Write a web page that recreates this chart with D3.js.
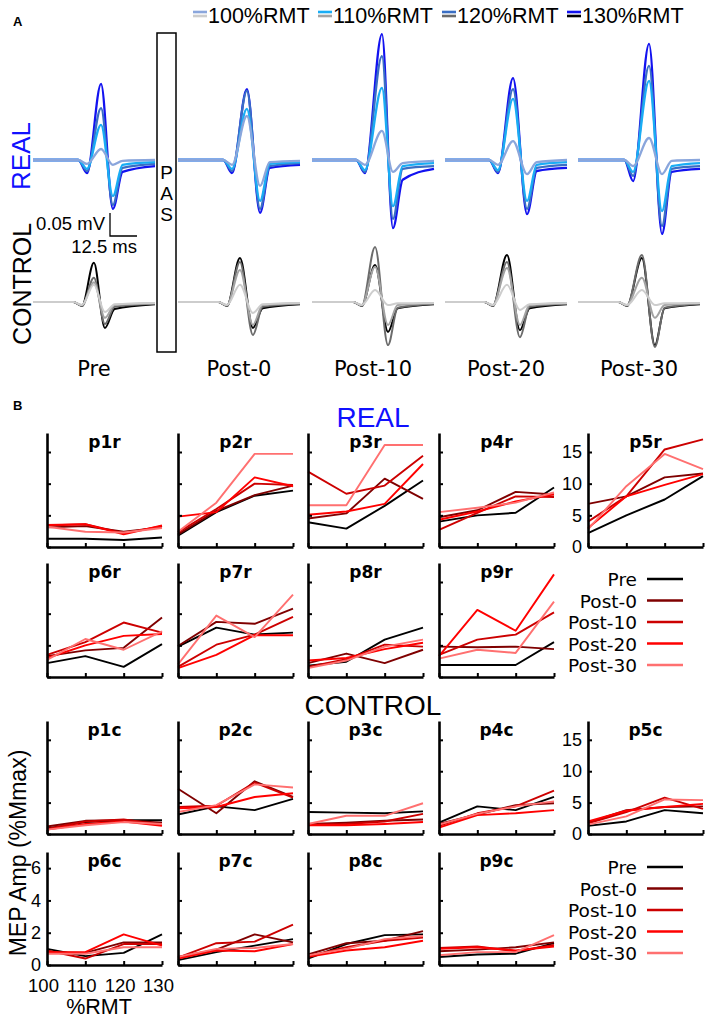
<!DOCTYPE html>
<html><head><meta charset="utf-8">
<script src="https://cdn.jsdelivr.net/npm/d3@7"></script>
<style>body{margin:0;background:#fff}</style>
</head><body><svg id="c" width="708" height="1021"></svg>
<script>
// ================= DATA =================
// Panel A: MEP waveforms (µV), per phase [100,110,120,130 %RMT]
const intensities = ["100%RMT", "110%RMT", "120%RMT", "130%RMT"];
const phases = ["Pre", "Post-0", "Post-10", "Post-20", "Post-30"];
// event times (ms from sweep start): [dip, peak, trough]
const realTimes = [[25.0, 31.5, 37.0], [25.0, 31.9, 38.0], [24.5, 32.4, 37.5], [24.5, 31.5, 38.0], [25.5, 32.9, 38.9]];
const ctrlTimes = [[22.7, 28.2, 33.3], [22.7, 28.7, 34.7], [23.1, 29.2, 35.2], [22.2, 28.7, 34.7], [22.7, 29.6, 35.6]];
const realDip = [[-9, -20, -25, -30], [-11, -20, -25, -30], [-11, -23, -27, -30], [-11, -23, -27, -30], [-14, -27, -36, -48]];
const realPeak = [[25, 80, 118, 173], [100, 116, 157, 161], [66, 164, 236, 286], [43, 139, 161, 186], [50, 180, 214, 264]];
const realTrough = [[-11, -82, -102, -111], [-59, -93, -111, -120], [-27, -105, -134, -155], [-32, -93, -111, -123], [-32, -116, -150, -168]];
const realTail = [[-2, -11, -18, -27], [-5, -9, -14, -18], [-7, -14, -20, -45], [-5, -11, -18, -25], [-2, -14, -20, -27]];
const realEnd = [[0, -5, -9, -14], [-2, -5, -7, -11], [-2, -7, -14, -20], [0, -5, -11, -18], [0, -7, -14, -20]];
const ctrlDip = [[-7, -7, -9, -9], [-7, -7, -9, -9], [-7, -7, -9, -9], [-7, -7, -9, -9], [-7, -7, -9, -9]];
const ctrlPeak = [[39, 45, 55, 89], [39, 73, 91, 100], [27, 80, 125, 84], [39, 77, 91, 107], [27, 55, 107, 100]];
const ctrlTrough = [[-23, -36, -50, -59], [-25, -52, -75, -59], [-7, -52, -98, -68], [-18, -52, -80, -64], [-7, -36, -102, -98]];
const ctrlTail = [[-5, -7, -11, -16], [-5, -7, -11, -14], [-3, -7, -13, -14], [-5, -7, -11, -14], [-3, -7, -13, -14]];
const ctrlEnd = [[-2, -3, -4, -5], [-2, -3, -4, -5], [-2, -3, -4, -5], [-2, -3, -4, -5], [-2, -3, -4, -5]];

// Panel B: MEP amplitude (%Mmax), rows = sessions, cols = %RMT
const rmt = [100, 110, 120, 130];
const sessions = ["Pre", "Post-0", "Post-10", "Post-20", "Post-30"];
const p1r = [[1.3, 1.3, 1.1, 1.5], [3.1, 3.3, 2.4, 3.1], [3.4, 3.6, 2.2, 3.3], [3.5, 3.6, 2.0, 3.4], [3.2, 2.4, 2.3, 3.0]];
const p2r = [[1.8, 5.5, 8.1, 8.9], [2.0, 5.7, 8.2, 9.7], [2.3, 6.0, 10.0, 9.8], [4.8, 5.5, 11.0, 9.6], [2.4, 7.0, 14.7, 14.7]];
const p3r = [[3.9, 2.9, 6.5, 10.5], [4.5, 5.3, 10.8, 7.6], [11.9, 8.4, 9.7, 14.4], [5.1, 5.6, 6.8, 13.1], [6.6, 6.6, 16.1, 16.1]];
const p4r = [[4.0, 5.0, 5.4, 9.4], [4.7, 5.8, 8.7, 8.3], [2.7, 5.4, 8.0, 7.9], [4.3, 5.6, 7.2, 8.3], [5.5, 6.2, 7.0, 8.6]];
const p5r = [[2.2, 5.0, 7.5, 11.2], [6.8, 8.0, 11.0, 11.6], [4.0, 8.0, 15.4, 17.0], [3.0, 8.0, 9.8, 11.5], [2.8, 9.6, 14.7, 12.3]];
const p6r = [[2.2, 3.3, 1.6, 5.2], [3.3, 4.2, 4.6, 9.4], [3.5, 5.5, 8.6, 7.0], [3.0, 5.0, 6.5, 6.8], [2.7, 6.0, 4.3, 7.2]];
const p7r = [[4.8, 7.8, 6.7, 7.0], [4.9, 8.7, 8.4, 10.8], [1.6, 5.1, 6.7, 9.5], [1.4, 3.5, 6.6, 6.6], [2.0, 9.7, 6.3, 13.0]];
const p8r = [[1.8, 2.4, 5.9, 7.8], [2.2, 3.7, 2.2, 4.3], [1.6, 2.8, 5.1, 4.8], [2.6, 3.0, 4.4, 5.4], [1.4, 2.6, 4.8, 5.9]];
const p9r = [[1.9, 1.9, 1.9, 5.5], [4.8, 4.7, 4.8, 4.4], [3.5, 5.9, 6.7, 10.2], [3.3, 10.6, 7.3, 16.2], [2.9, 4.3, 3.8, 11.9]];
const p1c = [[0.9, 1.9, 2.2, 2.2], [1.2, 2.1, 2.2, 1.8], [0.8, 2.0, 2.3, 1.5], [0.7, 1.6, 2.0, 1.3], [0.7, 1.4, 1.9, 1.6]];
const p2c = [[3.1, 4.4, 3.8, 5.6], [7.2, 3.3, 8.4, 5.9], [4.3, 4.5, 8.2, 5.8], [4.1, 4.3, 5.9, 6.5], [3.5, 4.6, 7.9, 7.4]];
const p3c = [[3.5, 3.4, 3.3, 3.6], [1.6, 1.8, 2.1, 2.3], [1.5, 1.6, 2.0, 3.2], [1.4, 1.4, 1.6, 1.9], [1.6, 2.9, 2.9, 4.9]];
const p4c = [[1.8, 4.4, 3.8, 5.9], [1.6, 3.1, 4.6, 4.9], [1.3, 3.3, 4.4, 6.9], [1.0, 3.0, 3.3, 3.8], [1.5, 3.2, 4.4, 5.2]];
const p5c = [[1.3, 2.0, 3.8, 3.3], [1.8, 3.8, 4.3, 4.4], [1.7, 3.5, 5.8, 4.0], [2.0, 3.7, 4.3, 4.8], [1.5, 2.8, 5.5, 5.4]];
const p6c = [[1.0, 0.55, 0.75, 1.9], [0.8, 0.75, 1.4, 1.4], [0.9, 0.4, 1.3, 1.3], [0.8, 0.8, 1.9, 1.2], [0.7, 0.7, 1.1, 1.1]];
const p7c = [[0.3, 0.8, 1.2, 1.6], [0.5, 0.95, 1.9, 1.4], [0.45, 1.35, 1.45, 2.5], [0.4, 0.9, 0.85, 1.3], [0.5, 1.0, 1.05, 1.3]];
const p8c = [[0.4, 1.3, 1.85, 1.9], [0.65, 1.35, 1.5, 2.1], [0.55, 1.1, 1.5, 1.7], [0.5, 0.9, 1.1, 1.5], [0.6, 1.0, 1.6, 1.8]];
const p9c = [[0.5, 0.65, 0.7, 1.35], [0.85, 0.95, 1.1, 1.4], [1.05, 1.15, 0.85, 1.25], [1.0, 1.1, 0.9, 1.15], [0.6, 0.8, 0.8, 1.85]];
const yTicksBig = [0, 5, 10, 15];
const yTicksSmall = [0, 2, 4, 6];

// ================= STYLE / LAYOUT =================
const SANS = "'Liberation Sans', Arial, sans-serif";
const DEJA = "'DejaVu Sans', sans-serif";
const realColors = ["#8aa6dc", "#19adf5", "#3a6ec4", "#1212f0"];
const ctrlColors = ["#cdcdcd", "#a3a3a3", "#6b6b6b", "#000000"];
const sessColors = ["#000000", "#7f0000", "#cc0000", "#ff0000", "#ff7070"];

const svg = d3.select("#c");
svg.append("rect").attr("width", 708).attr("height", 1021).attr("fill", "#fff");

function txt(x, y, s, size, opts = {}) {
  const t = svg.append("text").attr("x", x).attr("y", y).text(s)
    .attr("font-family", opts.family || SANS).attr("font-size", size)
    .attr("fill", opts.fill || "#000").attr("text-anchor", opts.anchor || "start");
  if (opts.weight) t.attr("font-weight", opts.weight);
  if (opts.rotate) t.attr("transform", `rotate(-90,${x},${y})`);
  return t;
}

// ---------- Panel A ----------
txt(13, 26, "A", 13, { weight: "bold" });
const legX = [193, 318, 442, 567];
intensities.forEach((lab, i) => {
  svg.append("line").attr("x1", legX[i]).attr("x2", legX[i] + 14).attr("y1", 12).attr("y2", 12)
    .attr("stroke", realColors[i]).attr("stroke-width", 2.6);
  svg.append("line").attr("x1", legX[i]).attr("x2", legX[i] + 14).attr("y1", 16).attr("y2", 16)
    .attr("stroke", ctrlColors[i]).attr("stroke-width", 2.6);
  txt(legX[i] + 15, 23, lab, 21.5);
});

txt(30, 156, "REAL", 26, { rotate: true, anchor: "middle", fill: "#1010ff" });
txt(31, 284, "CONTROL", 25, { rotate: true, anchor: "middle" });

// PAS box
svg.append("rect").attr("x", 157).attr("y", 33).attr("width", 19).attr("height", 319)
  .attr("fill", "none").attr("stroke", "#000").attr("stroke-width", 1.5);
["P", "A", "S"].forEach((c, i) => txt(166.5, 179 + i * 21, c, 19, { anchor: "middle" }));

// scale bar
svg.append("path").attr("d", "M110,213V236H137").attr("fill", "none").attr("stroke", "#000").attr("stroke-width", 1.3);
txt(105, 230, "0.05 mV", 18.5, { anchor: "end" });
txt(137, 253, "12.5 ms", 18.5, { anchor: "end" });

const colX = [33, 178, 312, 445, 578];
const tScale = d3.scaleLinear().domain([0, 56.5]).range([0, 122]);
const vReal = d3.scaleLinear().domain([0, 50]).range([160, 138]);
const vCtrl = d3.scaleLinear().domain([0, 50]).range([302, 280]);

function wavePts(tm, dip, peak, trough, tail, end) {
  return [[0, 0], [tm[0] - 4, 0], [tm[0], dip], [tm[1], peak], [tm[2], trough], [tm[2] + 4.5, tail], [56.5, end]];
}
phases.forEach((ph, p) => {
  const x0 = colX[p];
  const lineR = d3.line().x(d => x0 + tScale(d[0])).y(d => vReal(d[1])).curve(d3.curveMonotoneX);
  const lineC = d3.line().x(d => x0 + tScale(d[0])).y(d => vCtrl(d[1])).curve(d3.curveMonotoneX);
  for (let i = 3; i >= 0; i--) {
    svg.append("path")
      .attr("d", lineR(wavePts(realTimes[p], realDip[p][i], realPeak[p][i], realTrough[p][i], realTail[p][i], realEnd[p][i])))
      .attr("fill", "none").attr("stroke", realColors[i]).attr("stroke-width", 2.3).attr("stroke-linejoin", "round");
  }
  for (let i = 3; i >= 0; i--) {
    svg.append("path")
      .attr("d", lineC(wavePts(ctrlTimes[p], ctrlDip[p][i], ctrlPeak[p][i], ctrlTrough[p][i], ctrlTail[p][i], ctrlEnd[p][i])))
      .attr("fill", "none").attr("stroke", ctrlColors[i]).attr("stroke-width", 2).attr("stroke-linejoin", "round");
  }
  txt(x0 + 61, 376, ph, 21, { anchor: "middle", family: DEJA });
});

// ---------- Panel B ----------
txt(13, 410, "B", 13, { weight: "bold" });
txt(373, 427, "REAL", 28, { anchor: "middle", fill: "#1010ff" });
txt(373, 715, "CONTROL", 28, { anchor: "middle" });

const colB = [47, 178, 308, 439, 588];
const wB = 115;
const rowsB = [{ top: 433, bot: 547, max: 18 }, { top: 563, bot: 677, max: 18 }, { top: 721, bot: 834, max: 18 }, { top: 852, bot: 965, max: 7 }];

const panels = [
  { name: "p1r", d: p1r, r: 0, c: 0 }, { name: "p2r", d: p2r, r: 0, c: 1 }, { name: "p3r", d: p3r, r: 0, c: 2 },
  { name: "p4r", d: p4r, r: 0, c: 3 }, { name: "p5r", d: p5r, r: 0, c: 4, ylab: true },
  { name: "p6r", d: p6r, r: 1, c: 0 }, { name: "p7r", d: p7r, r: 1, c: 1 }, { name: "p8r", d: p8r, r: 1, c: 2 },
  { name: "p9r", d: p9r, r: 1, c: 3 },
  { name: "p1c", d: p1c, r: 2, c: 0 }, { name: "p2c", d: p2c, r: 2, c: 1 }, { name: "p3c", d: p3c, r: 2, c: 2 },
  { name: "p4c", d: p4c, r: 2, c: 3 }, { name: "p5c", d: p5c, r: 2, c: 4, ylab: true },
  { name: "p6c", d: p6c, r: 3, c: 0, ylab: true, xlab: true }, { name: "p7c", d: p7c, r: 3, c: 1 },
  { name: "p8c", d: p8c, r: 3, c: 2 }, { name: "p9c", d: p9c, r: 3, c: 3 }
];

panels.forEach(pn => {
  const row = rowsB[pn.r];
  const x0 = colB[pn.c];
  const x = d3.scaleLinear().domain([100, 130]).range([x0, x0 + wB]);
  const y = d3.scaleLinear().domain([0, row.max]).range([row.bot, row.top]);
  const ticks = row.max > 10 ? yTicksBig : yTicksSmall;
  const line = d3.line().x((d, i) => x(rmt[i])).y(d => y(d));
  pn.d.forEach((s, k) => {
    svg.append("path").attr("d", line(s)).attr("fill", "none")
      .attr("stroke", sessColors[k]).attr("stroke-width", 1.9).attr("stroke-linejoin", "round");
  });
  const ya = svg.append("g").attr("transform", `translate(${x0},0)`)
    .call(d3.axisLeft(y).tickValues(ticks).tickSize(-4).tickSizeOuter(0).tickPadding(6)
      .tickFormat(pn.ylab ? d3.format("d") : () => ""));
  const xa = svg.append("g").attr("transform", `translate(0,${row.bot})`)
    .call(d3.axisBottom(x).tickValues(rmt).tickSize(-4).tickSizeOuter(0).tickPadding(14)
      .tickFormat(pn.xlab ? d3.format("d") : () => ""));
  [ya, xa].forEach(a => {
    a.select(".domain").attr("stroke", "#000").attr("stroke-width", 2.6);
    a.selectAll(".tick line").attr("stroke", "#000").attr("stroke-width", 2);
    a.selectAll("text").attr("font-family", SANS).attr("fill", "#000");
  });
  ya.selectAll("text").attr("font-size", 18);
  xa.selectAll("text").attr("font-size", 18.5).attr("dx", -4);
  txt(x0 + wB / 2, row.top + 15, pn.name, 17, { anchor: "middle", weight: "bold", family: DEJA });
});

txt(99, 1014, "%RMT", 21.5, { anchor: "middle" });
txt(26, 853, "MEP Amp (%Mmax)", 23, { anchor: "middle", rotate: true });

// legends
[[579, 600.5, 622, 643.5, 665], [867, 888.5, 910, 931.5, 953]].forEach(ys => {
  sessions.forEach((s, k) => {
    txt(637, ys[k] + 7, s, 18.5, { anchor: "end", family: DEJA });
    svg.append("line").attr("x1", 647).attr("x2", 683).attr("y1", ys[k]).attr("y2", ys[k])
      .attr("stroke", sessColors[k]).attr("stroke-width", 2.4);
  });
});
</script></body></html>
